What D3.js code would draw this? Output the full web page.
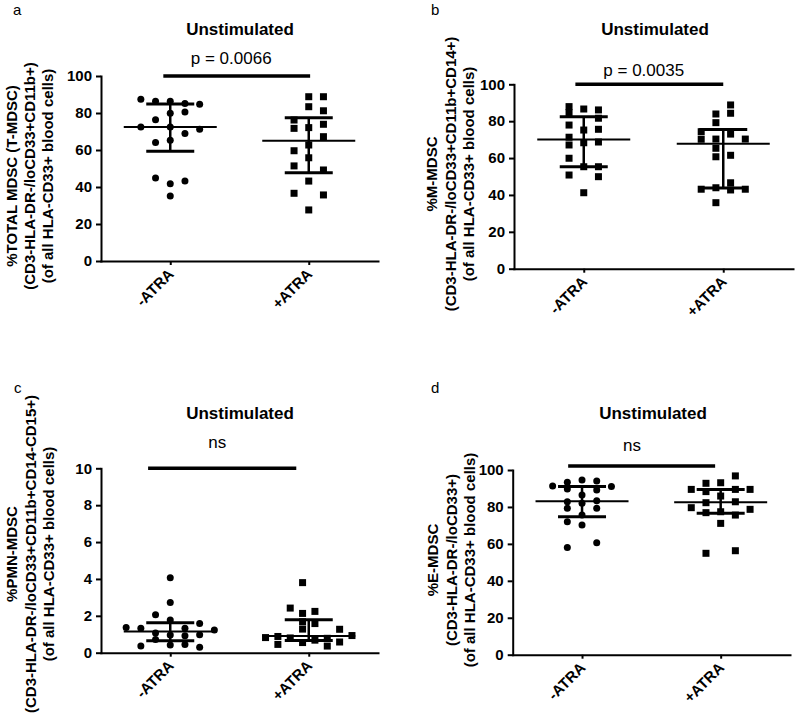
<!DOCTYPE html>
<html><head><meta charset="utf-8">
<script src="https://cdn.jsdelivr.net/npm/d3@7"></script>
<style>body{margin:0;background:#fff} svg{display:block}</style>
</head><body>
<svg id="chart" width="800" height="724"></svg>
<script>
// ---------------- DATA ----------------
const categories = ["-ATRA", "+ATRA"];

// Panel a: %TOTAL MDSC
const aMinus = [87.5, 86.3, 86.3, 85.1, 84.7, 80.6, 79.8, 76.4, 72.5, 72.5, 71.2, 68.9, 65.3, 64.1, 44.9, 43.3, 41.8, 35.1];
const aMinusSlot = [-2, -1, 0, 1, 2, 1, 0, -1, -2, 0, 2, 1, 0, -1, -1, 1, 0, 0];
const aPlus = [88.8, 88.8, 83.4, 81.2, 76.2, 73.9, 72.1, 71.7, 67.2, 62.7, 59.6, 55.8, 51.4, 49.2, 43.2, 36.6, 35.7, 27.6];
const aPlusSlot = [0, 1, 0, 1, -1, 1, 0, -1, 1, 0, -1, 0, -1, 1, 0, -1, 1, 0];

// Panel b: %M-MDSC
const bMinus = [87.9, 86.6, 86.1, 84.6, 81.6, 77.9, 75.6, 75.2, 71.3, 68.7, 68.3, 67.1, 59.9, 55.3, 55.3, 50.8, 49.9, 41.2];
const bMinusSlot = [-1, 0, 1, -1, 1, -1, 1, 0, -1, 1, 0, -1, -1, 0, 1, -1, 1, 0];
const bPlus = [88.8, 84.3, 83.9, 79.2, 74.3, 73.0, 70.3, 70.3, 70.2, 65.3, 61.5, 60.7, 46.6, 43.9, 43.1, 43.1, 42.7, 35.8];
const bPlusSlot = [0.5, 0.5, -0.5, -0.5, -1.5, 0.5, -0.5, 1.5, -1.5, -0.5, 0.5, -0.5, 0.5, -0.5, -1.5, 1.5, 0.5, -0.5];

// Panel c: %PMN-MDSC
const cMinus = [4.07, 2.72, 2.06, 1.77, 1.58, 1.37, 1.32, 1.32, 1.23, 1.07, 0.98, 0.96, 0.92, 0.72, 0.45, 0.42, 0.37, 0.30];
const cMinusSlot = [0, 0, -1, 0, 2, -3, -2, 1, 3, -1, 2, 0, 1, -1, 1, 0, -2, 2];
const cPlus = [3.80, 2.42, 2.24, 2.13, 1.68, 1.58, 1.28, 1.27, 0.93, 0.88, 0.82, 0.80, 0.78, 0.68, 0.58, 0.55, 0.45, 0.36];
const cPlusSlot = [-0.42, -1.26, 0.42, -0.42, -0.42, 0.42, -0.42, 2.1, 2.94, -2.1, -2.94, -1.26, 1.26, 0.42, 2.1, -0.42, -2.1, 1.26];

// Panel d: %E-MDSC
const dMinus = [94.6, 94.0, 93.3, 91.3, 91.0, 89.7, 89.2, 86.5, 83.4, 82.8, 82.0, 79.3, 79.3, 75.6, 72.0, 70.2, 60.6, 58.1];
const dMinusSlot = [0, 1, -1, -2, 2, -1, 1, 0, 1, -1, 0, -1, 1, 0, -1, 0, 1, -1];
const dPlus = [96.8, 93.1, 92.8, 89.5, 89.5, 89.5, 88.3, 85.9, 82.8, 82.3, 79.6, 78.7, 77.4, 76.9, 75.6, 71.1, 56.3, 54.9];
const dPlusSlot = [1, 0, -1, -2, 2, 1, -1, 0, 1, -1, -2, 2, 0, -1, 1, 0, 1, -1];

const panelLetters = ["a", "b", "c", "d"];
const panelTitles = ["Unstimulated", "Unstimulated", "Unstimulated", "Unstimulated"];
const sigLabels = ["p = 0.0066", "p = 0.0035", "ns", "ns"];
const yTitles = [
  ["%TOTAL MDSC (T-MDSC)", "(CD3-HLA-DR-/loCD33+CD11b+)", "(of all HLA-CD33+ blood cells)"],
  ["%M-MDSC", "(CD3-HLA-DR-/loCD33+CD11b+CD14+)", "(of all HLA-CD33+ blood cells)"],
  ["%PMN-MDSC", "(CD3-HLA-DR-/loCD33+CD11b+CD14-CD15+)", "(of all HLA-CD33+ blood cells)"],
  ["%E-MDSC", "(CD3-HLA-DR-/loCD33+)", "(of all HLA-CD33+ blood cells)"]
];
const ticks100 = [0, 20, 40, 60, 80, 100];
const ticks10 = [0, 2, 4, 6, 8, 10];

// ---------------- LAYOUT ----------------
const panels = [
  {minus: aMinus, minusSlot: aMinusSlot, plus: aPlus, plusSlot: aPlusSlot, minusShape: "circle", plusShape: "square",
   ticks: ticks100, left: 101, right: 378, bottom: 261, top: 76,
   letter: [13, 15], title: [240, 35], titleLines: [17, 35, 53], titleCY: 176,
   bar: [-0.05, 1.01], barY: 100, labelX: 0.44, labelY: 106.5},
  {minus: bMinus, minusSlot: bMinusSlot, plus: bPlus, plusSlot: bPlusSlot, minusShape: "square", plusShape: "square",
   ticks: ticks100, left: 514, right: 793, bottom: 268.7, top: 84.3,
   letter: [431, 15], title: [655, 35], titleLines: [437, 456, 474], titleCY: 174,
   bar: [-0.06, 1.0], barY: 100, labelX: 0.43, labelY: 104.5},
  {minus: cMinus, minusSlot: cMinusSlot, plus: cPlus, plusSlot: cPlusSlot, minusShape: "circle", plusShape: "square",
   ticks: ticks10, left: 101, right: 378, bottom: 652.7, top: 468.3,
   letter: [14, 393], title: [240, 419], titleLines: [17, 36, 54], titleCY: 554,
   bar: [-0.16, 0.91], barY: 10, labelX: 0.34, labelY: 11.1},
  {minus: dMinus, minusSlot: dMinusSlot, plus: dPlus, plusSlot: dPlusSlot, minusShape: "circle", plusShape: "square",
   ticks: ticks100, left: 512.7, right: 790, bottom: 654.7, top: 470,
   letter: [431, 393], title: [653, 419], titleLines: [438, 457, 475], titleCY: 560,
   bar: [-0.1, 0.96], barY: 102.2, labelX: 0.36, labelY: 110.3}
];

const FONT = "'Liberation Sans', Arial, Helvetica, sans-serif";
const svg = d3.select("#chart");

// GraphPad-style quartile
function quart(vals, p) {
  const s = vals.slice().sort((a, b) => a - b);
  const n = s.length;
  const h = p * (n + 1);
  const lo = Math.floor(h);
  const f = h - lo;
  if (lo < 1) return s[0];
  if (lo >= n) return s[n - 1];
  return s[lo - 1] + f * (s[lo] - s[lo - 1]);
}

const jitter = d3.scaleLinear().domain([-1, 1]).range([-14.7, 14.7]);

panels.forEach((P, i) => {
  const g = svg.append("g");
  const yMax = P.ticks[P.ticks.length - 1];
  const y = d3.scaleLinear().domain([0, yMax]).range([P.bottom, P.top]);
  const x = d3.scalePoint().domain(categories).range([P.left, P.right]).padding(0.5);
  const xi = d3.scaleLinear().domain([0, 1]).range([x(categories[0]), x(categories[1])]);

  // panel letter
  g.append("text").attr("x", P.letter[0]).attr("y", P.letter[1])
    .attr("font-family", FONT).attr("font-size", 15).attr("fill", "#000")
    .text(panelLetters[i]);

  // title
  g.append("text").attr("x", P.title[0]).attr("y", P.title[1]).attr("text-anchor", "middle")
    .attr("font-family", FONT).attr("font-weight", "bold").attr("font-size", 17).text(panelTitles[i]);

  // y title (3 lines)
  yTitles[i].forEach((line, k) => {
    g.append("text")
      .attr("transform", `translate(${P.titleLines[k]},${P.titleCY}) rotate(-90)`)
      .attr("text-anchor", "middle").attr("font-family", FONT).attr("font-weight", "bold")
      .attr("font-size", 15).text(line);
  });

  // axes
  const ya = g.append("g").attr("transform", `translate(${P.left},0)`)
    .call(d3.axisLeft(y).tickValues(P.ticks).tickSize(5).tickSizeOuter(0).tickPadding(4).tickFormat(d3.format("d")));
  const xa = g.append("g").attr("transform", `translate(0,${P.bottom})`)
    .call(d3.axisBottom(x).tickSize(4).tickSizeOuter(0));
  [ya, xa].forEach(ax => {
    ax.select(".domain").attr("stroke", "#000").attr("stroke-width", 2).attr("stroke-linecap", "square");
    ax.selectAll(".tick line").attr("stroke", "#000").attr("stroke-width", 2);
    ax.selectAll("text").attr("font-family", FONT).attr("font-weight", "bold").attr("font-size", 15).attr("fill", "#000");
  });
  xa.selectAll(".tick text").attr("x", 0).attr("y", 0).attr("dy", 0)
    .attr("text-anchor", "end").attr("transform", "translate(4,14) rotate(-45)");

  // points
  const groups = [
    {cat: categories[0], vals: P.minus, slots: P.minusSlot, shape: P.minusShape},
    {cat: categories[1], vals: P.plus, slots: P.plusSlot, shape: P.plusShape}
  ];
  groups.forEach(G => {
    const cx = x(G.cat);
    const pts = G.vals.map((v, k) => ({v, s: G.slots[k]}));
    if (G.shape === "circle") {
      g.append("g").selectAll("circle").data(pts).join("circle")
        .attr("cx", d => cx + jitter(d.s)).attr("cy", d => y(d.v)).attr("r", 3.5).attr("fill", "#000");
    } else {
      const sz = 7;
      g.append("g").selectAll("rect").data(pts).join("rect")
        .attr("x", d => cx + jitter(d.s) - sz / 2).attr("y", d => y(d.v) - sz / 2)
        .attr("width", sz).attr("height", sz).attr("fill", "#000");
    }
    // median with IQR
    const med = quart(G.vals, 0.5), q1 = quart(G.vals, 0.25), q3 = quart(G.vals, 0.75);
    const eb = g.append("g").attr("stroke", "#000");
    eb.append("line").attr("x1", cx).attr("x2", cx).attr("y1", y(q1)).attr("y2", y(q3)).attr("stroke-width", 2.5);
    eb.append("line").attr("x1", cx - 24).attr("x2", cx + 24).attr("y1", y(q1)).attr("y2", y(q1)).attr("stroke-width", 3);
    eb.append("line").attr("x1", cx - 24).attr("x2", cx + 24).attr("y1", y(q3)).attr("y2", y(q3)).attr("stroke-width", 3);
    eb.append("line").attr("x1", cx - 46.5).attr("x2", cx + 46.5).attr("y1", y(med)).attr("y2", y(med)).attr("stroke-width", 2);
  });

  // significance bar and label
  g.append("line").attr("x1", xi(P.bar[0])).attr("x2", xi(P.bar[1]))
    .attr("y1", y(P.barY)).attr("y2", y(P.barY)).attr("stroke", "#000").attr("stroke-width", 3.5);
  g.append("text").attr("x", xi(P.labelX)).attr("y", y(P.labelY)).attr("text-anchor", "middle")
    .attr("font-family", FONT).attr("font-size", 17).text(sigLabels[i]);
});
</script>
</body></html>
